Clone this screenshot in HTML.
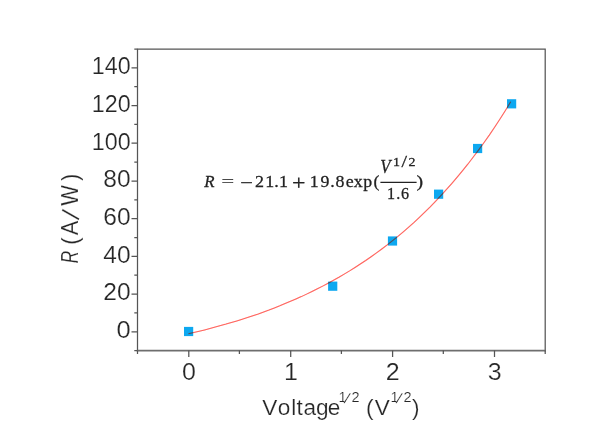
<!DOCTYPE html>
<html><head><meta charset="utf-8"><title>R vs Voltage</title>
<style>
html,body{margin:0;padding:0;background:#fff;}
body{width:600px;height:421px;overflow:hidden;}
svg{display:block;}
.t{font-family:"Liberation Sans",sans-serif;fill:#262626;stroke:#fff;stroke-width:0.2px;}
.e{font-family:"Liberation Serif",serif;fill:#222;}
.i{font-style:italic;}
</style></head><body>
<svg width="600" height="421" viewBox="0 0 600 421">
<defs><filter id="soft" x="0" y="0" width="600" height="421" filterUnits="userSpaceOnUse"><feGaussianBlur stdDeviation="0.4"/></filter></defs>
<rect width="600" height="421" fill="#fff"/>
<g filter="url(#soft)">
<path d="M137.5 351.3V49.0H545.2V351.3" fill="none" stroke="#555" stroke-width="1.25"/>
<path d="M136.8 350.6H545.9" fill="none" stroke="#6e6e6e" stroke-width="1.9"/>
<path d="M131.5 331.8H137.5M131.5 294.1H137.5M131.5 256.4H137.5M131.5 218.7H137.5M131.5 181.0H137.5M131.5 143.2H137.5M131.5 105.6H137.5M131.5 67.9H137.5M134.3 350.6H137.5M134.3 312.9H137.5M134.3 275.2H137.5M134.3 237.5H137.5M134.3 199.8H137.5M134.3 162.1H137.5M134.3 124.4H137.5M134.3 86.7H137.5M134.3 49.0H137.5M188.8 350.6V357.1M290.7 350.6V357.1M392.6 350.6V357.1M494.5 350.6V357.1M137.5 350.6V354.1M239.4 350.6V354.1M341.4 350.6V354.1M443.3 350.6V354.1M545.2 350.6V354.1" stroke="#555" stroke-width="1.25" fill="none"/>
<text class="t" transform="translate(130.7,338.1) scale(1.09,1)" font-size="23.4" text-anchor="end">0</text>
<text class="t" transform="translate(130.7,300.4) scale(1.05,1)" font-size="23.4" text-anchor="end">20</text>
<text class="t" transform="translate(130.7,262.7) scale(1.05,1)" font-size="23.4" text-anchor="end">40</text>
<text class="t" transform="translate(130.7,225.0) scale(1.05,1)" font-size="23.4" text-anchor="end">60</text>
<text class="t" transform="translate(130.7,187.3) scale(1.05,1)" font-size="23.4" text-anchor="end">80</text>
<text class="t" transform="translate(130.7,149.6) scale(0.995,1)" font-size="23.4" text-anchor="end">100</text>
<text class="t" transform="translate(130.7,111.9) scale(0.995,1)" font-size="23.4" text-anchor="end">120</text>
<text class="t" transform="translate(130.7,74.2) scale(0.995,1)" font-size="23.4" text-anchor="end">140</text>
<text class="t" transform="translate(189.0,379.8) scale(1.07,1)" font-size="23.4" text-anchor="middle">0</text>
<text class="t" transform="translate(290.9,379.8) scale(1.07,1)" font-size="23.4" text-anchor="middle">1</text>
<text class="t" transform="translate(392.8,379.8) scale(1.07,1)" font-size="23.4" text-anchor="middle">2</text>
<text class="t" transform="translate(494.7,379.8) scale(1.07,1)" font-size="23.4" text-anchor="middle">3</text>
<rect x="184.0" y="326.9" width="9.2" height="9.2" fill="#10a8f0"/>
<rect x="328.1" y="281.6" width="9.2" height="9.2" fill="#10a8f0"/>
<rect x="387.9" y="236.4" width="9.2" height="9.2" fill="#10a8f0"/>
<rect x="434.0" y="189.6" width="9.2" height="9.2" fill="#10a8f0"/>
<rect x="473.0" y="143.9" width="9.2" height="9.2" fill="#10a8f0"/>
<rect x="507.0" y="99.2" width="9.2" height="9.2" fill="#10a8f0"/>
<polyline points="188.5,333.8 193.8,332.6 199.2,331.3 204.6,329.9 209.9,328.5 215.3,327.1 220.7,325.6 226.1,324.1 231.4,322.5 236.8,320.9 242.2,319.2 247.5,317.5 252.9,315.7 258.3,313.9 263.7,311.9 269.0,310.0 274.4,307.9 279.8,305.8 285.1,303.6 290.5,301.3 295.9,299.0 301.3,296.6 306.6,294.1 312.0,291.5 317.4,288.8 322.7,286.1 328.1,283.2 333.5,280.3 338.9,277.3 344.2,274.1 349.6,270.9 355.0,267.5 360.3,264.0 365.7,260.5 371.1,256.7 376.5,252.9 381.8,249.0 387.2,244.9 392.6,240.6 397.9,236.3 403.3,231.8 408.7,227.1 414.1,222.3 419.4,217.3 424.8,212.1 430.2,206.8 435.5,201.3 440.9,195.6 446.3,189.7 451.7,183.7 457.0,177.4 462.4,170.9 467.8,164.2 473.1,157.3 478.5,150.1 483.9,142.7 489.3,135.1 494.6,127.2 500.0,119.0 505.4,110.5 510.7,101.8" fill="none" stroke="#ff6660" stroke-width="1.05" style="mix-blend-mode:multiply"/>
<polyline points="188.5,333.8 193.8,332.6 199.2,331.3 204.6,329.9 209.9,328.5 215.3,327.1 220.7,325.6 226.1,324.1 231.4,322.5 236.8,320.9 242.2,319.2 247.5,317.5 252.9,315.7 258.3,313.9 263.7,311.9 269.0,310.0 274.4,307.9 279.8,305.8 285.1,303.6 290.5,301.3 295.9,299.0 301.3,296.6 306.6,294.1 312.0,291.5 317.4,288.8 322.7,286.1 328.1,283.2 333.5,280.3 338.9,277.3 344.2,274.1 349.6,270.9 355.0,267.5 360.3,264.0 365.7,260.5 371.1,256.7 376.5,252.9 381.8,249.0 387.2,244.9 392.6,240.6 397.9,236.3 403.3,231.8 408.7,227.1 414.1,222.3 419.4,217.3 424.8,212.1 430.2,206.8 435.5,201.3 440.9,195.6 446.3,189.7 451.7,183.7 457.0,177.4 462.4,170.9 467.8,164.2 473.1,157.3 478.5,150.1 483.9,142.7 489.3,135.1 494.6,127.2 500.0,119.0 505.4,110.5 510.7,101.8" fill="none" stroke="#ff6660" stroke-width="1.05" opacity="0.3"/>
<text class="t" y="414.9" font-size="22.6"><tspan x="262.2 277.8 291.3 296.6 303.4 315.9 327.7">Voltage</tspan><tspan x="338.6" dy="-12.7" font-size="14.5">1</tspan><tspan x="343.6" dy="0.6" font-size="15.5" rotate="17">/</tspan><tspan x="351.6" dy="-0.6" font-size="14.5">2</tspan> <tspan x="366" dy="12.7" letter-spacing="1.2">(V</tspan><tspan x="390.4" dy="-12.7" font-size="14.5">1</tspan><tspan x="395.4" dy="0.6" font-size="15.5" rotate="17">/</tspan><tspan x="403.4" dy="-0.6" font-size="14.5">2</tspan><tspan x="412" dy="12.7">)</tspan></text>
<text class="t i" transform="translate(78.4,263.23) rotate(-90) scale(0.741,1)" font-size="23.3">R</text>
<text class="t" transform="translate(78.4,0) rotate(-90) scale(0.94,1)" font-size="23.3"><tspan x="-260.28">(</tspan><tspan x="-250.16">A</tspan><tspan x="-234.26" font-size="26" rotate="16">/</tspan><tspan x="-218.88">W</tspan><tspan x="-192.48">)</tspan></text>
<g class="e" font-size="16.3" stroke="#222" stroke-width="0.26">
<text class="i" transform="translate(0,187.2) scale(0.957,1)" x="213.35" font-size="17.6">R</text>
<text transform="translate(221.49,186.40) scale(1.315,0.85)" font-size="17">=</text>
<text transform="translate(240.19,187.71) scale(1.397,1)" font-size="16">−</text>
<text transform="translate(0,187.0) scale(1.106,1)" x="230.61 239.92 248.07 252.27" font-size="16.3">21.1</text>
<text transform="translate(292.11,189.54) scale(1.109,1)" font-size="21.5">+</text>
<text transform="translate(0,187.0) scale(1.095,1)" x="282.94 292.82 301.50 306.31 315.72 322.99 331.69 341.07" font-size="16.3">19.8exp(</text>
<text class="i" transform="translate(0,172.6) scale(0.933,1)" x="407.61" font-size="18">V</text>
<text transform="translate(0,166.2) scale(1.2,1)" font-size="11.6"><tspan x="327.48">1</tspan><tspan x="334.58" dy="1.2" font-size="16.5">/</tspan><tspan x="340.46" dy="-1.2">2</tspan></text>
<text transform="translate(0,199.3) scale(0.991,1)" x="390.63 399.81 404.58" font-size="16.3">1.6</text>
<text transform="translate(0,187.0) scale(1.218,1)" x="342.02" font-size="16.3">)</text>
</g>
<path d="M380.4 182.4H416.6" stroke="#222" stroke-width="1.25"/>
</g>
</svg>
</body></html>
